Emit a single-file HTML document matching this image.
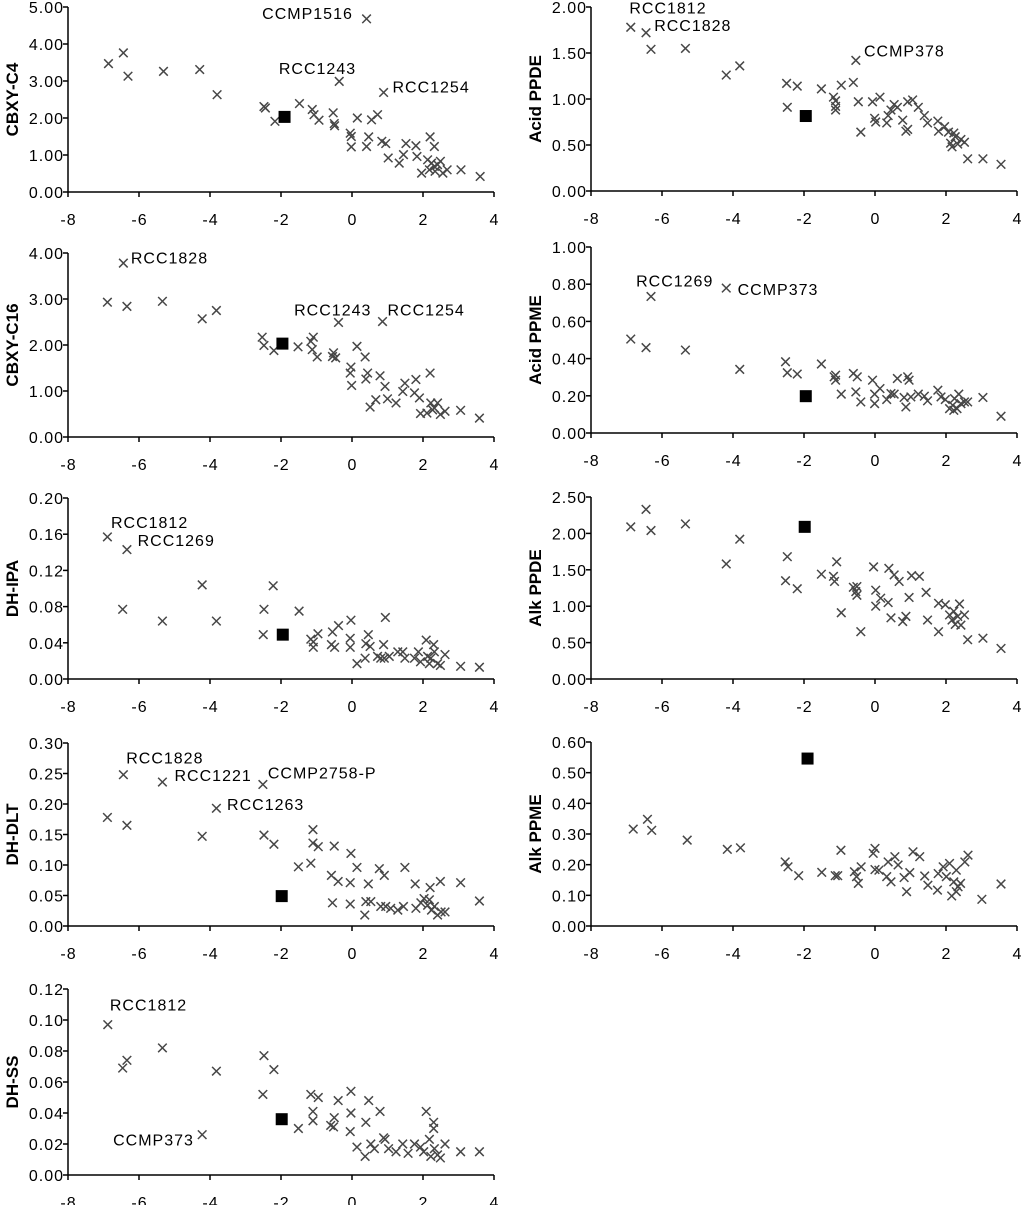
<!DOCTYPE html>
<html><head><meta charset="utf-8">
<style>
html,body{margin:0;padding:0;background:#fff;}
svg{display:block;font-family:"Liberation Sans",Arial,sans-serif;}
.tick{font-size:16px;letter-spacing:1px;fill:#000;}
.ann{font-size:16px;letter-spacing:1px;fill:#000;}
.ttl{font-size:17px;font-weight:bold;fill:#000;}
</style></head>
<body>
<svg id="chart" width="1024" height="1205" viewBox="0 0 1024 1205" xmlns="http://www.w3.org/2000/svg"></svg>
<script>
// ---- data: Left 1 CBXY-C4
const cbxyC4X = [-6.86,-6.44,-6.31,-5.31,-4.29,-3.8,-2.48,-2.44,-2.17,-1.48,-1.12,-1.07,-0.93,-0.53,-0.5,-0.49,-0.36,0.15,-0.05,-0.02,-0.02,0.41,0.47,0.55,0.72,0.41,0.89,0.84,0.95,1.02,1.33,1.45,1.52,1.80,1.83,1.96,2.18,2.20,2.32,2.13,2.24,2.32,2.41,2.49,2.56,2.68,3.07,3.61,2.34];
const cbxyC4Y = [3.47,3.76,3.13,3.26,3.31,2.63,2.31,2.27,1.91,2.39,2.23,2.09,1.94,2.14,1.85,1.79,2.99,2.0,1.59,1.50,1.22,1.23,1.49,1.95,2.09,4.68,2.69,1.37,1.31,0.92,0.78,1.01,1.31,1.25,0.96,0.51,0.60,1.49,1.23,0.87,0.78,0.69,0.74,0.83,0.51,0.60,0.60,0.42,0.56];
const cbxyC4Ref = [-1.9, 2.03];
// Left 2 CBXY-C16
const cbxyC16X = [-6.89,-6.44,-6.34,-5.34,-4.22,-3.82,-2.53,-2.48,-2.2,-1.52,-1.16,-1.09,-1.12,-0.98,-0.55,-0.52,-0.46,-0.38,0.14,0.37,-0.03,-0.05,-0.01,0.44,0.39,0.51,0.67,0.79,0.86,0.93,1.0,1.24,1.43,1.49,1.80,1.76,1.90,1.93,2.20,2.11,2.22,2.32,2.41,2.49,2.62,3.06,3.59,2.27];
const cbxyC16Y = [2.93,3.78,2.84,2.95,2.57,2.75,2.17,1.99,1.88,1.96,2.08,2.17,1.90,1.74,1.75,1.83,1.72,2.49,1.97,1.74,1.52,1.39,1.12,1.39,1.26,0.65,0.81,1.33,2.51,1.10,0.83,0.74,0.99,1.17,1.25,0.96,0.85,0.51,1.39,0.52,0.74,0.63,0.74,0.49,0.56,0.58,0.41,0.59];
const cbxyC16Ref = [-1.96, 2.03];
// Left 3 DH-IPA
const dhIpaX = [-6.89,-6.34,-6.46,-5.34,-4.22,-3.82,-2.22,-2.48,-2.5,-1.49,-1.16,-1.09,-1.09,-0.96,-0.55,-0.58,-0.49,-0.38,-0.03,-0.05,-0.05,0.14,0.37,0.39,0.46,0.51,0.72,0.81,0.89,0.94,0.91,1.05,1.29,1.43,1.49,1.76,1.87,1.93,2.09,2.13,2.22,2.30,2.32,2.41,2.49,2.62,3.06,3.59,2.18];
const dhIpaY = [0.157,0.143,0.077,0.064,0.104,0.064,0.103,0.077,0.049,0.075,0.044,0.041,0.035,0.050,0.052,0.038,0.035,0.059,0.065,0.045,0.035,0.017,0.023,0.039,0.049,0.036,0.025,0.023,0.038,0.068,0.023,0.025,0.030,0.030,0.023,0.023,0.030,0.019,0.043,0.025,0.023,0.038,0.030,0.017,0.015,0.027,0.014,0.013,0.017];
const dhIpaRef = [-1.95, 0.049];
// Left 4 DH-DLT
const dhDltX = [-6.89,-6.44,-6.34,-5.34,-4.22,-3.82,-2.51,-2.48,-2.2,-1.51,-1.16,-1.10,-1.10,-0.95,-0.5,-0.58,-0.39,-0.55,-0.03,0.14,-0.05,-0.05,0.36,0.39,0.46,0.53,0.77,0.91,0.81,0.95,1.09,1.29,1.45,1.49,1.78,1.80,1.94,2.03,2.13,2.20,2.24,2.32,2.41,2.49,2.51,2.62,3.06,3.59,2.18];
const dhDltY = [0.178,0.248,0.165,0.236,0.147,0.193,0.232,0.149,0.134,0.097,0.103,0.158,0.136,0.130,0.131,0.083,0.073,0.038,0.119,0.096,0.071,0.036,0.018,0.040,0.069,0.040,0.094,0.083,0.032,0.032,0.029,0.026,0.032,0.096,0.069,0.029,0.038,0.045,0.034,0.063,0.026,0.032,0.018,0.073,0.023,0.023,0.071,0.041,0.043];
const dhDltRef = [-1.98, 0.049];
// Left 5 DH-SS
const dhSsX = [-6.88,-6.46,-6.34,-5.34,-4.22,-3.82,-2.48,-2.51,-2.2,-1.51,-1.16,-1.10,-1.10,-0.95,-0.6,-0.5,-0.52,-0.39,-0.03,-0.03,-0.05,0.14,0.37,0.39,0.47,0.53,0.63,0.79,0.89,0.93,1.03,1.24,1.43,1.58,1.76,1.93,2.09,2.02,2.18,2.30,2.30,2.32,2.41,2.49,2.62,3.06,3.59,2.22];
const dhSsY = [0.097,0.069,0.074,0.082,0.026,0.067,0.077,0.052,0.068,0.030,0.052,0.041,0.035,0.050,0.032,0.037,0.031,0.048,0.054,0.040,0.028,0.018,0.012,0.034,0.048,0.020,0.017,0.041,0.024,0.023,0.017,0.015,0.020,0.014,0.020,0.018,0.041,0.015,0.023,0.034,0.030,0.017,0.013,0.011,0.020,0.015,0.015,0.012];
const dhSsRef = [-1.98, 0.036];
// Right 1 Acid PPDE
const acidPpdeX = [-6.88,-6.45,-6.31,-5.34,-4.19,-3.81,-2.49,-2.19,-2.47,-1.51,-1.17,-1.11,-1.11,-1.11,-0.95,-0.61,-0.54,-0.47,-0.40,-0.07,0.14,-0.01,0.02,0.33,0.37,0.45,0.54,0.63,0.78,0.87,0.92,0.92,1.06,1.22,1.39,1.48,1.77,1.79,1.96,2.07,2.13,2.22,2.26,2.33,2.42,2.52,2.61,3.04,3.55,2.17];
const acidPpdeY = [1.78,1.72,1.54,1.55,1.26,1.36,1.17,1.14,0.91,1.11,1.02,0.98,0.92,0.88,1.15,1.18,1.42,0.97,0.64,0.97,1.02,0.79,0.75,0.74,0.82,0.88,0.94,0.91,0.77,0.65,0.67,0.97,0.99,0.91,0.82,0.74,0.76,0.65,0.70,0.64,0.52,0.63,0.59,0.51,0.56,0.53,0.35,0.35,0.29,0.48];
const acidPpdeRef = [-1.95, 0.815];
// Right 2 Acid PPME
const acidPpmeX = [-6.88,-6.45,-6.31,-5.34,-4.19,-3.81,-2.52,-2.47,-2.19,-1.51,-1.15,-1.11,-1.11,-0.95,-0.61,-0.5,-0.54,-0.40,-0.07,-0.01,-0.01,0.14,0.33,0.45,0.54,0.63,0.82,0.87,0.92,0.96,1.01,1.22,1.39,1.48,1.77,1.86,1.98,2.10,2.19,2.24,2.31,2.36,2.42,2.52,2.61,3.04,3.55,2.22];
const acidPpmeY = [0.505,0.459,0.734,0.446,0.779,0.342,0.383,0.324,0.317,0.371,0.302,0.311,0.284,0.209,0.320,0.302,0.221,0.167,0.284,0.209,0.158,0.239,0.180,0.212,0.209,0.293,0.191,0.140,0.302,0.284,0.194,0.209,0.198,0.173,0.230,0.194,0.180,0.131,0.149,0.185,0.131,0.209,0.158,0.167,0.167,0.191,0.090,0.122];
const acidPpmeRef = [-1.95, 0.198];
// Right 3 Alk PPDE
const alkPpdeX = [-6.88,-6.45,-6.31,-5.34,-4.19,-3.81,-2.47,-2.52,-2.19,-1.51,-1.17,-1.14,-1.08,-0.95,-0.61,-0.54,-0.51,-0.51,-0.40,-0.04,0.02,0.02,0.16,0.37,0.39,0.54,0.68,0.45,0.78,0.87,0.96,1.03,1.25,1.44,1.48,1.79,1.79,1.98,2.10,2.17,2.22,2.26,2.38,2.42,2.52,2.61,3.04,3.55,2.33];
const alkPpdeY = [2.09,2.33,2.04,2.13,1.58,1.92,1.68,1.35,1.24,1.44,1.41,1.34,1.61,0.91,1.26,1.20,1.27,1.15,0.65,1.54,1.22,1.00,1.11,1.05,1.52,1.43,1.34,0.84,0.79,0.86,1.12,1.42,1.41,1.19,0.81,0.65,1.04,1.02,0.88,0.81,0.93,0.75,1.03,0.74,0.88,0.54,0.56,0.42,0.86];
const alkPpdeRef = [-1.98, 2.09];
// Right 4 Alk PPME
const alkPpmeX = [-6.81,-6.41,-6.29,-5.29,-4.16,-3.79,-2.53,-2.45,-2.15,-1.5,-1.12,-1.05,-0.96,-0.58,-0.47,-0.52,-0.39,-0.05,0.0,0.0,0.11,0.33,0.37,0.45,0.56,0.65,0.82,0.89,0.98,1.07,1.26,1.40,1.49,1.76,1.78,1.92,2.01,2.10,2.16,2.22,2.29,2.34,2.41,2.53,2.62,3.01,3.55,2.29];
const alkPpmeY = [0.316,0.348,0.312,0.280,0.250,0.255,0.209,0.193,0.164,0.175,0.164,0.164,0.247,0.177,0.139,0.161,0.193,0.237,0.253,0.184,0.182,0.161,0.209,0.144,0.226,0.199,0.158,0.112,0.174,0.242,0.226,0.163,0.133,0.117,0.171,0.193,0.161,0.204,0.098,0.144,0.182,0.128,0.139,0.209,0.231,0.087,0.137,0.112];
const alkPpmeRef = [-1.90, 0.546];

// tick values
const xTickValues = [-8,-6,-4,-2,0,2,4];
const ticksCbxyC4 = [0,1,2,3,4,5];
const ticksCbxyC16 = [0,1,2,3,4];
const ticksDhIpa = [0,0.04,0.08,0.12,0.16,0.20];
const ticksDhDlt = [0,0.05,0.10,0.15,0.20,0.25,0.30];
const ticksDhSs = [0,0.02,0.04,0.06,0.08,0.10,0.12];
const ticksAcidPpde = [0,0.5,1.0,1.5,2.0];
const ticksAcidPpme = [0,0.2,0.4,0.6,0.8,1.0];
const ticksAlkPpde = [0,0.5,1.0,1.5,2.0,2.5];
const ticksAlkPpme = [0,0.1,0.2,0.3,0.4,0.5,0.6];

// annotation labels [text, x, y] in data units (left/baseline)
const annCbxyC4 = [["CCMP1516",-2.53,4.68],["RCC1243",-2.06,3.19],["RCC1254",1.14,2.69]];
const annCbxyC16 = [["RCC1828",-6.23,3.77],["RCC1243",-1.63,2.64],["RCC1254",1.0,2.64]];
const annDhIpa = [["RCC1812",-6.79,0.167],["RCC1269",-6.04,0.147]];
const annDhDlt = [["RCC1828",-6.36,0.266],["RCC1221",-5.0,0.238],["CCMP2758-P",-2.37,0.242],["RCC1263",-3.52,0.190]];
const annDhSs = [["RCC1812",-6.82,0.106],["CCMP373",-6.73,0.019]];
const annAcidPpde = [["RCC1812",-6.92,1.93],["RCC1828",-6.22,1.74],["CCMP378",-0.31,1.46]];
const annAcidPpme = [["RCC1269",-6.73,0.788],["CCMP373",-3.87,0.743]];
const annAlkPpde = [];
const annAlkPpme = [];

const panels = [
 {id:'cbxy-c4', title:'CBXY-C4', xs:cbxyC4X, ys:cbxyC4Y, ref:cbxyC4Ref, ticks:ticksCbxyC4, ann:annCbxyC4, x0:68,x1:494, top:7, bot:192, tx:12},
 {id:'cbxy-c16', title:'CBXY-C16', xs:cbxyC16X, ys:cbxyC16Y, ref:cbxyC16Ref, ticks:ticksCbxyC16, ann:annCbxyC16, x0:68,x1:494, top:253, bot:437, tx:12},
 {id:'dh-ipa', title:'DH-IPA', xs:dhIpaX, ys:dhIpaY, ref:dhIpaRef, ticks:ticksDhIpa, ann:annDhIpa, x0:68,x1:494, top:498, bot:679, tx:12},
 {id:'dh-dlt', title:'DH-DLT', xs:dhDltX, ys:dhDltY, ref:dhDltRef, ticks:ticksDhDlt, ann:annDhDlt, x0:68,x1:494, top:743, bot:926, tx:12},
 {id:'dh-ss', title:'DH-SS', xs:dhSsX, ys:dhSsY, ref:dhSsRef, ticks:ticksDhSs, ann:annDhSs, x0:68,x1:494, top:989, bot:1175, tx:12},
 {id:'acid-ppde', title:'Acid PPDE', xs:acidPpdeX, ys:acidPpdeY, ref:acidPpdeRef, ticks:ticksAcidPpde, ann:annAcidPpde, x0:591,x1:1017, top:7, bot:191, tx:535},
 {id:'acid-ppme', title:'Acid PPME', xs:acidPpmeX, ys:acidPpmeY, ref:acidPpmeRef, ticks:ticksAcidPpme, ann:annAcidPpme, x0:591,x1:1017, top:247, bot:433, tx:535},
 {id:'alk-ppde', title:'Alk PPDE', xs:alkPpdeX, ys:alkPpdeY, ref:alkPpdeRef, ticks:ticksAlkPpde, ann:annAlkPpde, x0:591,x1:1017, top:497, bot:679, tx:535},
 {id:'alk-ppme', title:'Alk PPME', xs:alkPpmeX, ys:alkPpmeY, ref:alkPpmeRef, ticks:ticksAlkPpme, ann:annAlkPpme, x0:591,x1:1017, top:742, bot:926, tx:535}
];

const NS='http://www.w3.org/2000/svg';
const svg=document.getElementById('chart');
function mk(tag, parent){const e=document.createElementNS(NS,tag);parent.appendChild(e);return e;}

panels.forEach(p=>{
  const g=mk('g',svg);
  
  
  const ymax=p.ticks[p.ticks.length-1];
  const sx=v=>p.x0+(v-(-8))/12*(p.x1-p.x0);
  const sy=v=>p.bot-(v/ymax)*(p.bot-p.top);
  const ya=mk('line',g);
  
  
  ya.setAttribute('x1',p.x0);ya.setAttribute('x2',p.x0);ya.setAttribute('y1',p.top);ya.setAttribute('y2',p.bot);
  ya.setAttribute('stroke','#000');ya.setAttribute('stroke-width','1.5');
  const xa=mk('line',g);
  
  
  xa.setAttribute('x1',p.x0);xa.setAttribute('x2',p.x1);xa.setAttribute('y1',p.bot);xa.setAttribute('y2',p.bot);
  xa.setAttribute('stroke','#000');xa.setAttribute('stroke-width','1.5');
  xTickValues.forEach(v=>{
    const x=sx(v);
    const t=mk('line',g);
    
    
    t.setAttribute('x1',x);t.setAttribute('x2',x);t.setAttribute('y1',p.bot);t.setAttribute('y2',p.bot+5);
    t.setAttribute('stroke','#000');t.setAttribute('stroke-width','1.5');
    const l=mk('text',g);
    
    
    l.setAttribute('class','tick');l.setAttribute('x',x+0.5);l.setAttribute('y',p.bot+33);l.setAttribute('text-anchor','middle');
    l.textContent=String(v);
  });
  p.ticks.forEach(v=>{
    const y=sy(v);
    const t=mk('line',g);
    
    
    t.setAttribute('x1',p.x0-5);t.setAttribute('x2',p.x0);t.setAttribute('y1',y);t.setAttribute('y2',y);
    t.setAttribute('stroke','#000');t.setAttribute('stroke-width','1.5');
    const l=mk('text',g);
    
    
    l.setAttribute('class','tick');l.setAttribute('x',p.x0-4);l.setAttribute('y',y+6);l.setAttribute('text-anchor','end');
    l.textContent=v.toFixed(2);
  });
  const cy=(p.top+p.bot)/2;
  const tt=mk('text',g);
  
  
  tt.setAttribute('class','ttl');tt.setAttribute('text-anchor','middle');
  tt.setAttribute('transform','translate('+(p.tx+6)+','+cy+') rotate(-90)');
  tt.textContent=p.title;
  p.xs.forEach((xv,i)=>{
    const x=sx(xv), y=sy(p.ys[i]);
    const m=mk('path',g);
    
    
    m.setAttribute('d','M'+(x-4.3)+' '+(y-4.3)+'L'+(x+4.3)+' '+(y+4.3)+'M'+(x-4.3)+' '+(y+4.3)+'L'+(x+4.3)+' '+(y-4.3));
    m.setAttribute('stroke','#474747');m.setAttribute('stroke-width','1.5');m.setAttribute('fill','none');
  });
  const r=mk('rect',g);
  
  
  r.setAttribute('x',sx(p.ref[0])-6);r.setAttribute('y',sy(p.ref[1])-6);r.setAttribute('width',12);r.setAttribute('height',12);r.setAttribute('fill','#000');
  p.ann.forEach(a=>{
    const l=mk('text',g);
    
    
    l.setAttribute('class','ann');l.setAttribute('x',sx(a[1]));l.setAttribute('y',sy(a[2]));
    l.textContent=a[0];
  });
});
</script>
</body></html>
